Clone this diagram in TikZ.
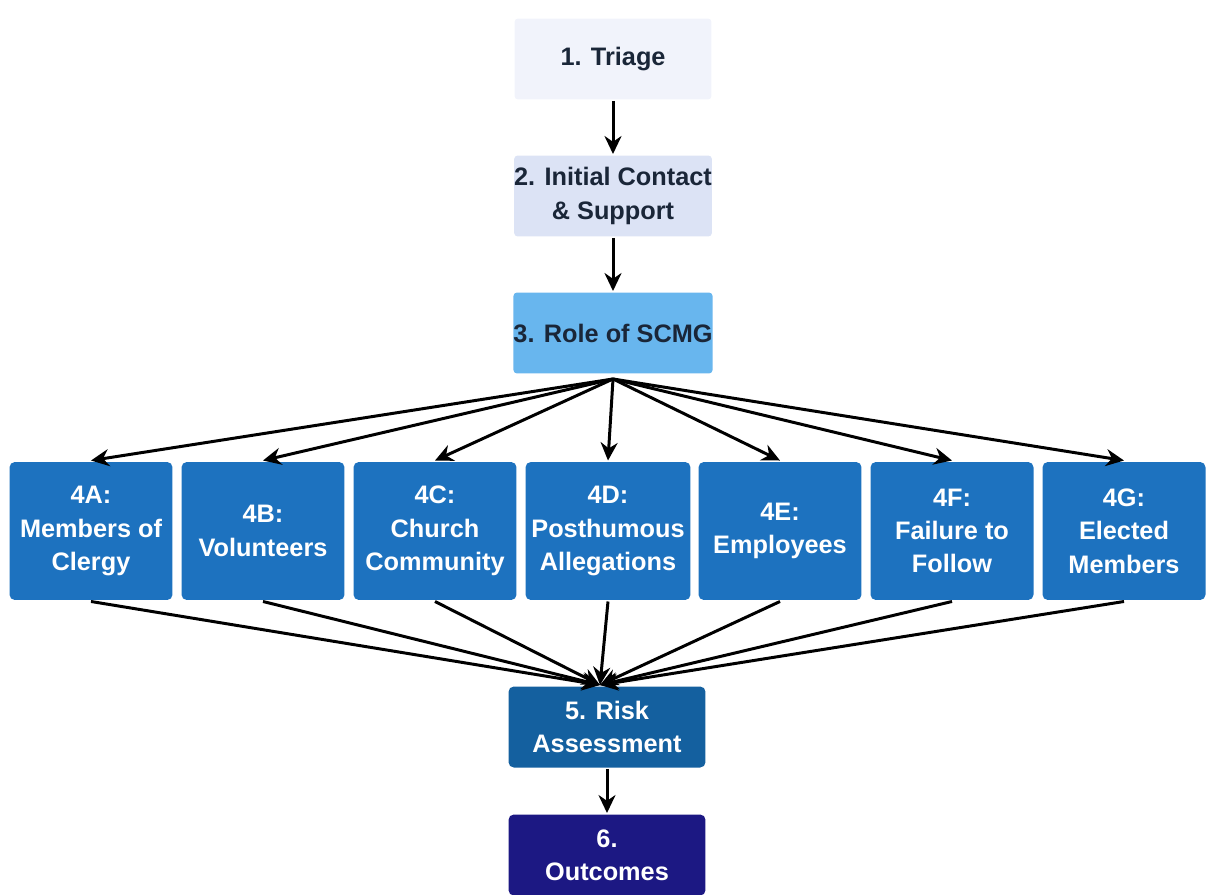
\documentclass[tikz,border=0pt]{standalone}
\usepackage{fontspec}
\setmainfont{Liberation Sans}
\usetikzlibrary{arrows.meta,positioning}
\definecolor{paleBox}{HTML}{F1F3FB}
\definecolor{lavBox}{HTML}{DCE3F5}
\definecolor{skyBox}{HTML}{68B6EE}
\definecolor{midBlue}{HTML}{1D72BF}
\definecolor{deepBlue}{HTML}{14609F}
\definecolor{navyBox}{HTML}{1C1883}
\definecolor{inkNavy}{HTML}{1A2638}

\begin{document}
\begin{tikzpicture}[
  x=0.02cm, y=-0.02cm,
  font=\bfseries\fontsize{14.4}{19}\selectfont,
  >={Stealth[length=3.6mm,width=3.4mm]},
  line width=1.7pt,
  % --- Reusable styles -------------------------------------------------------
  topbox/.style={                % upper steps, fill via #1
    rectangle, rounded corners=2pt, fill=#1, text=inkNavy,
    minimum width=3.94cm, minimum height=1.62cm, align=center,
    inner xsep=0pt,
  },
  catbox/.style={                % the seven 4x categories
    rectangle, rounded corners=3pt, fill=midBlue, text=white,
    minimum width=3.26cm, minimum height=2.76cm, align=center,
  },
  lowbox/.style={                % lower steps, fill via #1
    rectangle, rounded corners=3pt, fill=#1, text=white,
    minimum width=3.94cm, minimum height=1.62cm, align=center,
  },
  flow/.style={->, draw=black},
]
\useasboundingbox (0,0) rectangle (1206,895);

% --- Nodes -------------------------------------------------------------------
\node[topbox=paleBox]  (triage)  at (613,59)  {1. Triage};
\node[topbox=lavBox]   (contact) at (613,196) {2. Initial Contact\\\& Support};
\node[topbox=skyBox]   (role)    at (613,333) {3. Role of SCMG};

\node[catbox] (c4a) at (91,531)   {4A:\\Members of\\Clergy};
\node[catbox] (c4b) at (263,531)  {4B:\\Volunteers};
\node[catbox] (c4c) at (435,531)  {4C:\\Church\\Community};
\node[catbox] (c4d) at (608,531)  {4D:\\Posthumous\\Allegations};
\node[catbox] (c4e) at (780,531)  {4E:\\Employees};
\node[catbox] (c4f) at (952,531)  {4F:\\Failure to\\Follow};
\node[catbox] (c4g) at (1124,531) {4G:\\Elected\\Members};

\node[lowbox=deepBlue] (risk)     at (607,727) {5. Risk\\Assessment};
\node[lowbox=navyBox]  (outcomes) at (607,855) {6.\\Outcomes};

% --- Arrows ------------------------------------------------------------------
\draw[flow] (triage) -- (contact);
\draw[flow] (contact) -- (role);
\draw[flow] (risk) -- (outcomes);

\coordinate (fanTop) at ([yshift=-0.08cm]role.south);
\coordinate (fanBot) at ([xshift=-0.14cm]risk.north);
\foreach \c in {c4a,c4b,c4c,c4d,c4e,c4f,c4g}{
  \draw[flow] (fanTop) -- (\c.north);
  \draw[flow] (\c.south) -- (fanBot);
}

\end{tikzpicture}
\end{document}
